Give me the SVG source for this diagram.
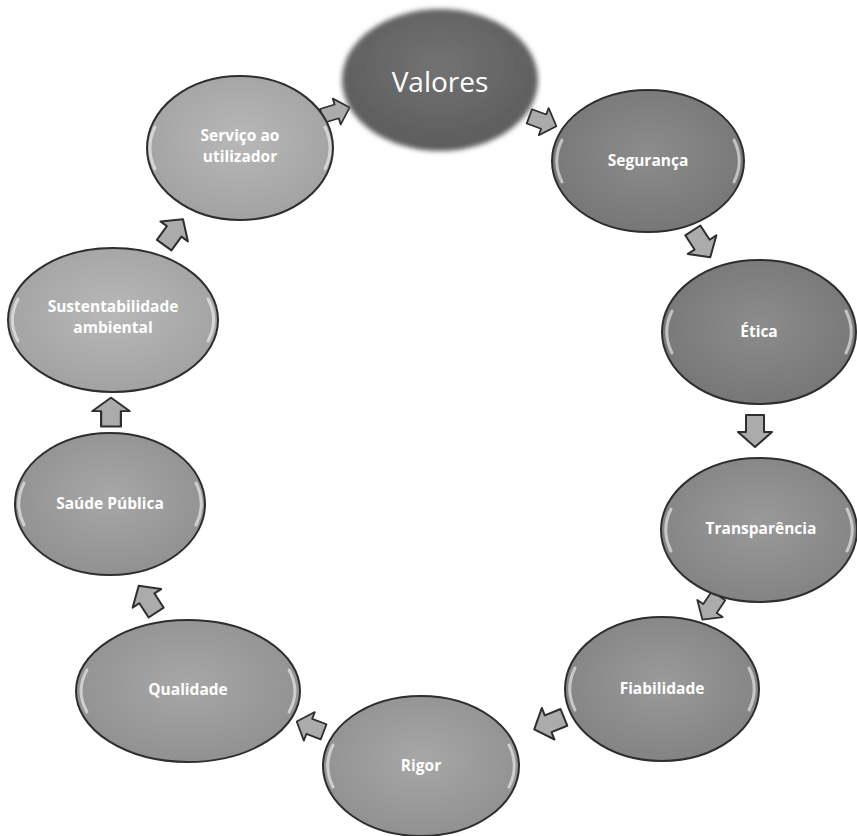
<svg xmlns="http://www.w3.org/2000/svg" width="857" height="836" viewBox="0 0 857 836">
<defs>
<style>
.node{stroke:#2e2e2e;stroke-width:2}
.hl{fill:none;stroke:#ffffff;stroke-opacity:0.55;stroke-width:3;stroke-linecap:round}
.lbl{font-family:"Open Sans","Liberation Sans",sans-serif;font-weight:bold;font-size:15.5px;fill:#ffffff;text-anchor:middle}
.big{font-family:"Open Sans","Liberation Sans",sans-serif;font-size:28px;fill:#ffffff;text-anchor:middle}
.arr{fill:#ababab;stroke:#2e2e2e;stroke-width:2;stroke-linejoin:round}
</style>
<filter id="blur" x="-10%" y="-10%" width="120%" height="120%"><feGaussianBlur stdDeviation="2.5"/></filter>
<radialGradient id="gv" cx="50%" cy="40%" r="60%"><stop offset="0" stop-color="#737373"/><stop offset="1" stop-color="#5c5c5c"/></radialGradient>
<radialGradient id="g1" cx="50%" cy="45%" r="60%"><stop offset="0" stop-color="#8c8c8c"/><stop offset="1" stop-color="#757575"/></radialGradient>
<radialGradient id="g2" cx="50%" cy="45%" r="60%"><stop offset="0" stop-color="#9a9a9a"/><stop offset="1" stop-color="#818181"/></radialGradient>
<radialGradient id="g3" cx="50%" cy="45%" r="60%"><stop offset="0" stop-color="#a7a7a7"/><stop offset="1" stop-color="#8f8f8f"/></radialGradient>
<radialGradient id="g4" cx="50%" cy="45%" r="60%"><stop offset="0" stop-color="#b8b8b8"/><stop offset="1" stop-color="#a0a0a0"/></radialGradient>
<path id="ar" d="M-15,-9 L2,-9 L2,-17 L17,0 L2,17 L2,9 L-15,9 Z"/>
</defs>
<rect width="857" height="836" fill="#ffffff"/>

<g id="connectors">
<use href="#ar" class="arr" transform="translate(335,112) rotate(-17) scale(0.9,0.8)"/>
<use href="#ar" class="arr" transform="translate(542,121) rotate(20) scale(0.9,0.85)"/>
<use href="#ar" class="arr" transform="translate(701,243) rotate(57)"/>
<use href="#ar" class="arr" transform="translate(755,430) rotate(90)"/>
<use href="#ar" class="arr" transform="translate(711,607) rotate(124) scale(0.9,0.9)"/>
<use href="#ar" class="arr" transform="translate(550,723) rotate(158)"/>
<use href="#ar" class="arr" transform="translate(311,727) rotate(201) scale(0.9,0.9)"/>
<use href="#ar" class="arr" transform="translate(148,600) rotate(237)"/>
<use href="#ar" class="arr" transform="translate(111,413) rotate(270) scale(0.9,1.1)"/>
<use href="#ar" class="arr" transform="translate(173,233) rotate(-54)"/>
</g>

<g id="valores">
<ellipse cx="440" cy="80" rx="98" ry="71" fill="url(#gv)" filter="url(#blur)"/>
<text class="big" x="440" y="92">Valores</text>
</g>

<g id="seguranca">
<ellipse class="node" cx="648" cy="161" rx="96" ry="71" fill="url(#g1)"/>
<path class="hl" d="M562,140 A92,64 0 0 0 562,182"/><path class="hl" d="M734,140 A92,64 0 0 1 734,182"/>
<text class="lbl" x="648" y="166">Segurança</text>
</g>

<g id="etica">
<ellipse class="node" cx="759" cy="332" rx="97" ry="72" fill="url(#g1)"/>
<path class="hl" d="M672,311 A92,64 0 0 0 672,353"/><path class="hl" d="M846,311 A92,64 0 0 1 846,353"/>
<text class="lbl" x="759" y="337">Ética</text>
</g>

<g id="transparencia">
<ellipse class="node" cx="759" cy="530" rx="98" ry="72" fill="url(#g2)"/>
<path class="hl" d="M671,509 A92,64 0 0 0 671,551"/><path class="hl" d="M847,509 A92,64 0 0 1 847,551"/>
<text class="lbl" x="761" y="534">Transparência</text>
</g>

<g id="fiabilidade">
<ellipse class="node" cx="662" cy="689" rx="97" ry="72" fill="url(#g2)"/>
<path class="hl" d="M575,668 A92,64 0 0 0 575,710"/><path class="hl" d="M749,668 A92,64 0 0 1 749,710"/>
<text class="lbl" x="662" y="694">Fiabilidade</text>
</g>

<g id="rigor">
<ellipse class="node" cx="421" cy="766" rx="98" ry="70" fill="url(#g3)"/>
<path class="hl" d="M333,745 A92,64 0 0 0 333,787"/><path class="hl" d="M509,745 A92,64 0 0 1 509,787"/>
<text class="lbl" x="421" y="771">Rigor</text>
</g>

<g id="qualidade">
<ellipse class="node" cx="188" cy="691" rx="112" ry="71" fill="url(#g3)"/>
<path class="hl" d="M87,670 A104,64 0 0 0 87,712"/><path class="hl" d="M289,670 A104,64 0 0 1 289,712"/>
<text class="lbl" x="188" y="695">Qualidade</text>
</g>

<g id="saude">
<ellipse class="node" cx="110" cy="504" rx="95" ry="71" fill="url(#g3)"/>
<path class="hl" d="M24,483 A92,64 0 0 0 24,525"/><path class="hl" d="M196,483 A92,64 0 0 1 196,525"/>
<text class="lbl" x="110" y="509">Saúde Pública</text>
</g>

<g id="sustentabilidade">
<ellipse class="node" cx="113" cy="320" rx="105" ry="72" fill="url(#g4)"/>
<path class="hl" d="M18,299 A99,64 0 0 0 18,341"/><path class="hl" d="M208,299 A99,64 0 0 1 208,341"/>
<text class="lbl" x="113" y="312">Sustentabilidade</text>
<text class="lbl" x="113" y="333">ambiental</text>
</g>

<g id="servico">
<ellipse class="node" cx="240" cy="148" rx="93" ry="72" fill="url(#g4)"/>
<path class="hl" d="M155,127 A89,64 0 0 0 155,169"/><path class="hl" d="M325,127 A89,64 0 0 1 325,169"/>
<text class="lbl" x="240" y="141">Serviço ao</text>
<text class="lbl" x="240" y="162">utilizador</text>
</g>
</svg>
